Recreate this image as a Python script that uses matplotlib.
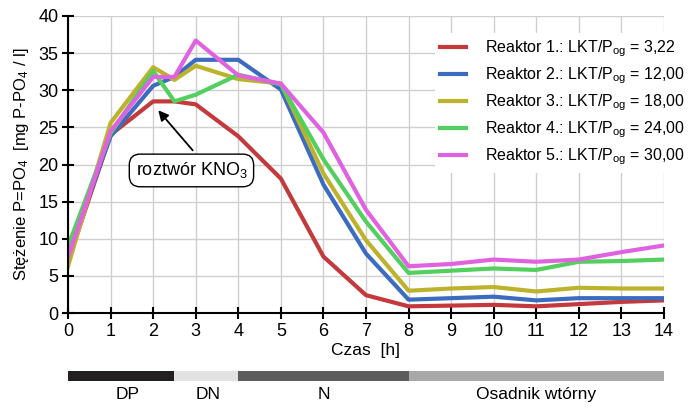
import numpy as np
import matplotlib
matplotlib.use('Agg')
import matplotlib.pyplot as plt

plt.rcParams['font.family'] = ['Liberation Sans', 'DejaVu Sans']
plt.rcParams['mathtext.default'] = 'regular'

# czas [h]
czas = [0, 1, 2, 2.5, 3, 4, 5, 6, 7, 8, 9, 10, 11, 12, 13, 14]

# stężenie P-PO4 [mg/l] dla reaktorów
reaktor1 = [7.0, 24.0, 28.5, 28.5, 28.1, 23.8, 18.1, 7.6, 2.4, 0.9, 1.0, 1.1, 0.9, 1.2, 1.5, 1.7]
reaktor2 = [8.0, 23.8, 30.6, 31.8, 34.1, 34.1, 30.1, 17.3, 8.0, 1.8, 2.0, 2.2, 1.7, 2.0, 2.0, 2.0]
reaktor3 = [6.3, 25.6, 33.1, 31.4, 33.3, 31.5, 30.9, 18.8, 9.8, 3.0, 3.3, 3.5, 2.9, 3.4, 3.3, 3.3]
reaktor4 = [9.0, 24.2, 32.6, 28.5, 29.4, 32.1, 30.8, 20.7, 12.3, 5.4, 5.7, 6.0, 5.8, 6.9, 7.0, 7.2]
reaktor5 = [7.5, 24.5, 31.8, 31.8, 36.7, 32.0, 30.9, 24.3, 13.9, 6.3, 6.6, 7.2, 6.9, 7.2, 8.2, 9.1]

serie = [reaktor1, reaktor2, reaktor3, reaktor4, reaktor5]
lkt = ['3,22', '12,00', '18,00', '24,00', '30,00']
kolory = ['#c4393b', '#3b6cc0', '#bdb22b', '#52cf5c', '#e062e0']

# fazy procesu
fazy = ['DP', 'DN', 'N', 'Osadnik wtórny']
fazy_start = [0, 2.5, 4, 8]
fazy_koniec = [2.5, 4, 8, 14]
fazy_kolory = ['#231f20', '#e2e2e2', '#5c5c5c', '#a8a8a8']
fazy_etykiety_x = [1.4, 3.3, 6.0, 11.0]

fig = plt.figure(figsize=(6.89, 4.08), dpi=100)
ax = fig.add_axes([0.0987, 0.2328, 0.865, 0.728])

for i, s in enumerate(serie):
    ax.plot(czas, s, color=kolory[i], lw=3,
            label='Reaktor %d.: LKT/P$_{og}$ = %s' % (i + 1, lkt[i]))

ax.set_xlim(0, 14)
ax.set_ylim(0, 40)
ax.set_xticks(range(0, 15))
ax.set_yticks(range(0, 41, 5))
ax.grid(True, color='#cfcfcf', lw=1)
ax.set_axisbelow(True)
for sp in ['top', 'right']:
    ax.spines[sp].set_visible(False)
for sp in ['left', 'bottom']:
    ax.spines[sp].set_linewidth(1.5)
    ax.spines[sp].set_clip_on(False)
ax.tick_params(direction='inout', length=8, width=1.5, labelsize=13, pad=3)
ax.set_xlabel('Czas  [h]', fontsize=12.5, labelpad=2)
ax.set_ylabel('Stężenie P=PO$_4$  [mg P-PO$_4$ / l]', fontsize=12, labelpad=5)

leg = ax.legend(loc='upper right', bbox_to_anchor=(1.058, 0.97), fontsize=11.5,
                frameon=True, framealpha=1, edgecolor='none', fancybox=False,
                handlelength=1.6, handletextpad=1.2, labelspacing=0.4, borderpad=0.35)

# strzałka i opis dozowania KNO3
ax.annotate('', xy=(2.12, 27.3), xytext=(2.93, 21.9),
            arrowprops=dict(arrowstyle='-|>', color='black', lw=1.3, shrinkA=0, shrinkB=0,
                            mutation_scale=15))
ax.text(2.9, 19.2, 'roztwór KNO$_3$', fontsize=13, ha='center', va='center',
        bbox=dict(boxstyle='round,pad=0.35,rounding_size=0.6', fc='white', ec='black', lw=1))

# pasek faz
axb = fig.add_axes([0.0987, 0.0669, 0.865, 0.0245])
for i in range(len(fazy)):
    axb.axvspan(fazy_start[i], fazy_koniec[i], color=fazy_kolory[i], lw=0)
    axb.text(fazy_etykiety_x[i], -0.6, fazy[i], ha='center', va='top', fontsize=12.5,
             transform=axb.get_xaxis_transform())
axb.set_xlim(0, 14)
axb.set_ylim(0, 1)
axb.axis('off')

fig.savefig('out.png', dpi=100)
